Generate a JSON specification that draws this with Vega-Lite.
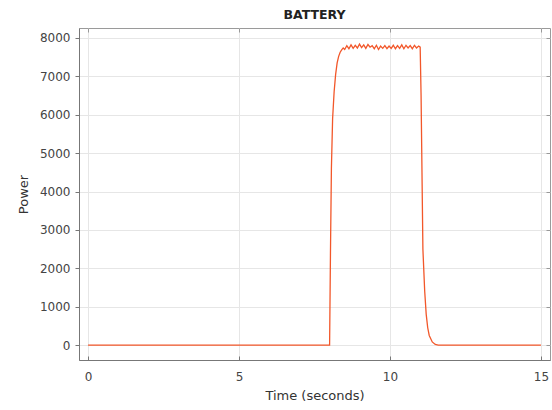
{
  "$schema": "https://vega.github.io/schema/vega-lite/v6.json",
  "width": 471,
  "height": 332,
  "autosize": "none",
  "padding": {"left": 79, "top": 28, "right": 2, "bottom": 50},
  "background": "white",
  "title": {"text": "BATTERY", "font": "DejaVu Sans", "fontSize": 12.5, "fontWeight": "bold", "color": "#222", "offset": 6},
  "config": {
    "view": {"stroke": "#9a9a9a", "strokeWidth": 1},
    "axis": {
      "labelFont": "DejaVu Sans", "titleFont": "DejaVu Sans",
      "labelFontSize": 12, "titleFontSize": 13, "labelColor": "#444", "titleColor": "#333",
      "titleFontWeight": "normal", "gridColor": "#e6e6e6", "gridWidth": 1,
      "domainColor": "#777", "tickColor": "#777", "tickSize": 4
    }
  },
  "data": {"values": [
    {"t": 0, "power": 0}, {"t": 5, "power": 0}, {"t": 8.0, "power": 0},
    {"t": 8.03, "power": 2500}, {"t": 8.06, "power": 4600}, {"t": 8.1, "power": 5900},
    {"t": 8.15, "power": 6600}, {"t": 8.2, "power": 7050}, {"t": 8.25, "power": 7350},
    {"t": 8.3, "power": 7520}, {"t": 8.35, "power": 7630}, {"t": 8.4, "power": 7690},
    {"t": 8.45, "power": 7740}, {"t": 8.5, "power": 7700}, {"t": 8.57, "power": 7800},
    {"t": 8.64, "power": 7720}, {"t": 8.71, "power": 7820}, {"t": 8.78, "power": 7730},
    {"t": 8.85, "power": 7810}, {"t": 8.92, "power": 7740}, {"t": 8.99, "power": 7840},
    {"t": 9.06, "power": 7750}, {"t": 9.13, "power": 7820}, {"t": 9.2, "power": 7730},
    {"t": 9.27, "power": 7830}, {"t": 9.34, "power": 7760}, {"t": 9.41, "power": 7800},
    {"t": 9.48, "power": 7720}, {"t": 9.55, "power": 7810}, {"t": 9.62, "power": 7700},
    {"t": 9.69, "power": 7790}, {"t": 9.76, "power": 7730}, {"t": 9.83, "power": 7800},
    {"t": 9.9, "power": 7720}, {"t": 9.97, "power": 7790}, {"t": 10.04, "power": 7730},
    {"t": 10.11, "power": 7810}, {"t": 10.18, "power": 7720}, {"t": 10.25, "power": 7800},
    {"t": 10.32, "power": 7730}, {"t": 10.39, "power": 7820}, {"t": 10.46, "power": 7720},
    {"t": 10.53, "power": 7810}, {"t": 10.6, "power": 7740}, {"t": 10.67, "power": 7800},
    {"t": 10.74, "power": 7720}, {"t": 10.81, "power": 7810}, {"t": 10.88, "power": 7740},
    {"t": 10.95, "power": 7790}, {"t": 11.0, "power": 7760},
    {"t": 11.03, "power": 6500}, {"t": 11.06, "power": 4500}, {"t": 11.09, "power": 2500},
    {"t": 11.15, "power": 1400}, {"t": 11.2, "power": 800}, {"t": 11.25, "power": 450},
    {"t": 11.3, "power": 250}, {"t": 11.4, "power": 80}, {"t": 11.5, "power": 15},
    {"t": 11.6, "power": 0}, {"t": 15, "power": 0}
  ]},
  "layer": [
    {
      "mark": {"type": "line", "color": "#f2572a", "strokeWidth": 1.3},
      "encoding": {
        "x": {"field": "t", "type": "quantitative",
          "scale": {"domain": [-0.3, 15.3], "nice": false, "zero": false},
          "axis": {"title": "Time (seconds)", "values": [0, 5, 10, 15], "tickSize": -4, "labelPadding": 15, "titlePadding": 7}},
        "y": {"field": "power", "type": "quantitative",
          "scale": {"domain": [-390, 8260], "nice": false, "zero": false},
          "axis": {"title": "Power", "format": "d", "values": [0, 1000, 2000, 3000, 4000, 5000, 6000, 7000, 8000], "labelPadding": 5, "titlePadding": 9}}
      }
    },
    {
      "mark": {"type": "line", "opacity": 0},
      "encoding": {
        "x": {"field": "t", "type": "quantitative",
          "axis": {"orient": "top", "title": null, "labels": false, "grid": false, "domain": false, "values": [0, 5, 10, 15], "tickSize": -4, "tickColor": "#999"}},
        "y": {"field": "power", "type": "quantitative",
          "axis": {"orient": "right", "title": null, "labels": false, "grid": false, "domain": false, "values": [0, 1000, 2000, 3000, 4000, 5000, 6000, 7000, 8000], "tickSize": -4, "tickColor": "#999"}}
      }
    }
  ],
  "resolve": {"axis": {"x": "independent", "y": "independent"}}
}
